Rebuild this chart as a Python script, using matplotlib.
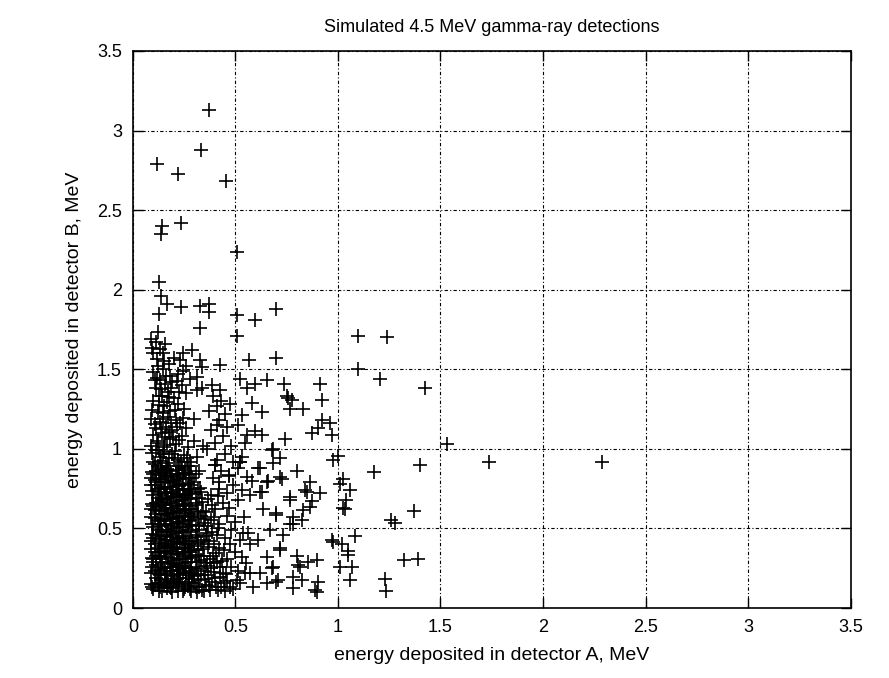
import matplotlib
matplotlib.use("Agg")
import matplotlib.pyplot as plt

plt.rcParams["font.family"] = ["Liberation Sans", "DejaVu Sans"]

TITLE = "Simulated 4.5 MeV gamma-ray detections"
XLABEL = "energy deposited in detector A, MeV"
YLABEL = "energy deposited in detector B, MeV"
TICKS = [0, 0.5, 1, 1.5, 2, 2.5, 3, 3.5]
TICK_LABELS = ["0", "0.5", "1", "1.5", "2", "2.5", "3", "3.5"]

# dense core of the cloud, read strip by strip (x, y in MeV)
core_pts = [
    (0.10, 0.12), (0.12, 0.16), (0.14, 0.11), (0.16, 0.18), (0.18, 0.13), (0.20, 0.17),
    (0.22, 0.11), (0.24, 0.15), (0.26, 0.19), (0.28, 0.12), (0.30, 0.16), (0.32, 0.13),
    (0.35, 0.18), (0.11, 0.19), (0.15, 0.14), (0.19, 0.10), (0.23, 0.19), (0.27, 0.14),
    (0.31, 0.10), (0.09, 0.15), (0.13, 0.13), (0.17, 0.15), (0.21, 0.14), (0.25, 0.12),
    (0.29, 0.18),
    (0.09, 0.22), (0.11, 0.27), (0.13, 0.21), (0.15, 0.25), (0.17, 0.29), (0.19, 0.23),
    (0.21, 0.27), (0.23, 0.21), (0.25, 0.25), (0.27, 0.29), (0.29, 0.22), (0.31, 0.26),
    (0.33, 0.21), (0.36, 0.28), (0.12, 0.24), (0.16, 0.22), (0.20, 0.20), (0.24, 0.28),
    (0.28, 0.25), (0.32, 0.29), (0.10, 0.29), (0.14, 0.28), (0.18, 0.26), (0.22, 0.24),
    (0.26, 0.22), (0.30, 0.20),
    (0.10, 0.31), (0.12, 0.35), (0.14, 0.39), (0.16, 0.32), (0.18, 0.36), (0.20, 0.30),
    (0.22, 0.34), (0.24, 0.38), (0.26, 0.31), (0.28, 0.35), (0.30, 0.39), (0.32, 0.33),
    (0.34, 0.37), (0.09, 0.37), (0.13, 0.33), (0.17, 0.39), (0.21, 0.37), (0.25, 0.35),
    (0.29, 0.32), (0.33, 0.30), (0.11, 0.33), (0.15, 0.36), (0.19, 0.34), (0.23, 0.31),
    (0.27, 0.38),
    (0.09, 0.42), (0.11, 0.46), (0.13, 0.41), (0.15, 0.45), (0.17, 0.49), (0.19, 0.43),
    (0.21, 0.47), (0.23, 0.41), (0.25, 0.45), (0.27, 0.49), (0.29, 0.42), (0.31, 0.46),
    (0.33, 0.40), (0.36, 0.47), (0.12, 0.49), (0.16, 0.43), (0.20, 0.40), (0.24, 0.48),
    (0.28, 0.44), (0.32, 0.49), (0.10, 0.44), (0.14, 0.48), (0.18, 0.46), (0.22, 0.44),
    (0.26, 0.42),
    (0.10, 0.51), (0.12, 0.55), (0.14, 0.59), (0.16, 0.52), (0.18, 0.56), (0.20, 0.50),
    (0.22, 0.54), (0.24, 0.58), (0.26, 0.51), (0.28, 0.55), (0.30, 0.59), (0.32, 0.52),
    (0.35, 0.56), (0.09, 0.57), (0.13, 0.53), (0.17, 0.59), (0.21, 0.57), (0.25, 0.55),
    (0.29, 0.52), (0.33, 0.58), (0.11, 0.59), (0.15, 0.56), (0.19, 0.53), (0.23, 0.51),
    (0.27, 0.58),
    (0.09, 0.62), (0.11, 0.66), (0.13, 0.61), (0.15, 0.65), (0.17, 0.69), (0.19, 0.63),
    (0.21, 0.67), (0.23, 0.61), (0.25, 0.65), (0.27, 0.69), (0.29, 0.62), (0.31, 0.66),
    (0.34, 0.61), (0.12, 0.69), (0.16, 0.63), (0.20, 0.60), (0.24, 0.68), (0.28, 0.64),
    (0.32, 0.69), (0.10, 0.64), (0.14, 0.68), (0.18, 0.66), (0.22, 0.64), (0.26, 0.62),
    (0.10, 0.71), (0.12, 0.75), (0.14, 0.79), (0.16, 0.72), (0.18, 0.76), (0.20, 0.70),
    (0.22, 0.74), (0.24, 0.78), (0.26, 0.71), (0.28, 0.75), (0.30, 0.79), (0.33, 0.73),
    (0.09, 0.77), (0.13, 0.73), (0.17, 0.79), (0.21, 0.77), (0.25, 0.75), (0.29, 0.72),
    (0.11, 0.79), (0.15, 0.76), (0.19, 0.73), (0.23, 0.71), (0.27, 0.78),
    (0.09, 0.82), (0.11, 0.86), (0.13, 0.81), (0.15, 0.85), (0.17, 0.89), (0.19, 0.83),
    (0.21, 0.87), (0.23, 0.81), (0.25, 0.85), (0.27, 0.89), (0.29, 0.82), (0.32, 0.86),
    (0.12, 0.89), (0.16, 0.83), (0.20, 0.80), (0.24, 0.88), (0.28, 0.84), (0.10, 0.84),
    (0.14, 0.88), (0.18, 0.86), (0.22, 0.84), (0.26, 0.82),
]

# further points packed in between the core ones
core_fill_pts = [
    (0.095, 0.135), (0.125, 0.105), (0.155, 0.165), (0.185, 0.125), (0.215, 0.185),
    (0.245, 0.105), (0.275, 0.165), (0.305, 0.135), (0.335, 0.115),
    (0.095, 0.255), (0.125, 0.215), (0.155, 0.235), (0.185, 0.205), (0.215, 0.255),
    (0.245, 0.225), (0.275, 0.205), (0.305, 0.245), (0.345, 0.235),
    (0.095, 0.315), (0.125, 0.375), (0.155, 0.345), (0.185, 0.315), (0.215, 0.355),
    (0.245, 0.325), (0.275, 0.365), (0.305, 0.335), (0.345, 0.325),
    (0.095, 0.465), (0.125, 0.435), (0.155, 0.405), (0.185, 0.445), (0.215, 0.415),
    (0.245, 0.435), (0.275, 0.405), (0.305, 0.445), (0.345, 0.425),
    (0.095, 0.525), (0.125, 0.515), (0.155, 0.545), (0.185, 0.515), (0.215, 0.535),
    (0.245, 0.525), (0.275, 0.545), (0.305, 0.515), (0.345, 0.535),
    (0.095, 0.655), (0.125, 0.635), (0.155, 0.615), (0.185, 0.645), (0.215, 0.625),
    (0.245, 0.655), (0.275, 0.625), (0.305, 0.645), (0.335, 0.665),
    (0.095, 0.735), (0.125, 0.715), (0.155, 0.745), (0.185, 0.725), (0.215, 0.715),
    (0.245, 0.745), (0.275, 0.735), (0.305, 0.715), (0.325, 0.755),
    (0.095, 0.855), (0.125, 0.835), (0.155, 0.815), (0.185, 0.845), (0.215, 0.825),
    (0.245, 0.835), (0.275, 0.815), (0.305, 0.845),
    (0.105, 0.905), (0.135, 0.925), (0.175, 0.945), (0.235, 0.915), (0.265, 0.945),
    (0.145, 0.965), (0.205, 0.985),
    (0.355, 0.145), (0.385, 0.165), (0.415, 0.115), (0.365, 0.205), (0.395, 0.225),
    (0.425, 0.255), (0.355, 0.265), (0.375, 0.305), (0.405, 0.345), (0.435, 0.295),
    (0.365, 0.385), (0.395, 0.405), (0.355, 0.455), (0.385, 0.475), (0.415, 0.505),
    (0.365, 0.515), (0.395, 0.575), (0.355, 0.605), (0.385, 0.645), (0.365, 0.685),
    (0.415, 0.705),
    (0.125, 0.995), (0.165, 1.025), (0.195, 1.075), (0.225, 1.055), (0.105, 1.155),
    (0.145, 1.185), (0.185, 1.165), (0.245, 1.195), (0.125, 1.275), (0.165, 1.295),
    (0.205, 1.245), (0.135, 1.375), (0.185, 1.385), (0.225, 1.355), (0.115, 1.445),
    (0.145, 1.505), (0.175, 1.535), (0.115, 1.565), (0.095, 1.635),
]

# a third pass over the blackest part of the cloud
core_fill2_pts = [
    (0.105, 0.145), (0.135, 0.175), (0.165, 0.125), (0.195, 0.155), (0.225, 0.165),
    (0.255, 0.135), (0.285, 0.105), (0.315, 0.175),
    (0.105, 0.235), (0.135, 0.255), (0.165, 0.205), (0.195, 0.275), (0.225, 0.215),
    (0.255, 0.265), (0.285, 0.235), (0.315, 0.215),
    (0.105, 0.355), (0.135, 0.305), (0.165, 0.375), (0.195, 0.385), (0.225, 0.305),
    (0.255, 0.375), (0.285, 0.315), (0.315, 0.365),
    (0.105, 0.405), (0.135, 0.455), (0.165, 0.475), (0.195, 0.415), (0.225, 0.485),
    (0.255, 0.405), (0.285, 0.475), (0.315, 0.415),
    (0.105, 0.565), (0.135, 0.545), (0.165, 0.585), (0.195, 0.575), (0.225, 0.565),
    (0.255, 0.595), (0.285, 0.575), (0.315, 0.565),
    (0.105, 0.615), (0.135, 0.665), (0.165, 0.685), (0.195, 0.605), (0.225, 0.695),
    (0.255, 0.615), (0.285, 0.685), (0.315, 0.605),
    (0.105, 0.775), (0.135, 0.755), (0.165, 0.705), (0.195, 0.785), (0.225, 0.765),
    (0.255, 0.705), (0.285, 0.775), (0.315, 0.745),
    (0.105, 0.805), (0.135, 0.865), (0.165, 0.875), (0.195, 0.805), (0.225, 0.895),
    (0.255, 0.865), (0.285, 0.895),
    (0.095, 0.975), (0.115, 1.035), (0.155, 1.075), (0.135, 1.125), (0.175, 1.105),
    (0.215, 1.135), (0.095, 1.245), (0.145, 1.225), (0.175, 1.325), (0.125, 1.335),
    (0.215, 1.425), (0.155, 1.405),
    (0.345, 0.105), (0.375, 0.115), (0.405, 0.135), (0.445, 0.155), (0.475, 0.135),
    (0.425, 0.195), (0.455, 0.215), (0.395, 0.285), (0.445, 0.365), (0.475, 0.405),
]

# thinner band right of the core, x ~0.35-0.56
fringe_pts = [
    (0.37, 0.14), (0.40, 0.19), (0.43, 0.13), (0.46, 0.17), (0.49, 0.12), (0.52, 0.16),
    (0.38, 0.25), (0.41, 0.29), (0.44, 0.22), (0.48, 0.26), (0.51, 0.23), (0.55, 0.28),
    (0.39, 0.33), (0.42, 0.38), (0.46, 0.31), (0.50, 0.35), (0.53, 0.32), (0.37, 0.42),
    (0.41, 0.46), (0.45, 0.44), (0.48, 0.49), (0.52, 0.43), (0.56, 0.47), (0.38, 0.55),
    (0.42, 0.53), (0.46, 0.58), (0.50, 0.54), (0.54, 0.57), (0.40, 0.62), (0.44, 0.66),
    (0.47, 0.63), (0.51, 0.68), (0.38, 0.71), (0.42, 0.75), (0.46, 0.72), (0.49, 0.77),
    (0.53, 0.74), (0.39, 0.82), (0.43, 0.86), (0.47, 0.83), (0.51, 0.88), (0.41, 0.93),
    (0.45, 0.97), (0.49, 0.92), (0.53, 0.95), (0.36, 1.00), (0.40, 1.04), (0.44, 1.08),
    (0.48, 1.02), (0.38, 1.12), (0.42, 1.18), (0.46, 1.14), (0.37, 1.24), (0.41, 1.27),
    (0.45, 1.22), (0.39, 1.33), (0.43, 1.30), (0.40, 0.90), (0.52, 0.92), (0.42, 0.79),
    (0.47, 0.835),
]

# upper part of the cloud, y ~0.9-1.75
upper_pts = [
    (0.10, 0.92), (0.13, 0.95), (0.16, 0.91), (0.19, 0.97), (0.22, 0.93), (0.25, 0.96),
    (0.28, 0.92), (0.11, 0.99), (0.15, 0.98), (0.20, 0.94), (0.31, 0.95), (0.09, 1.02),
    (0.12, 1.05), (0.15, 1.01), (0.18, 1.06), (0.21, 1.03), (0.24, 1.08), (0.27, 1.01),
    (0.10, 1.09), (0.14, 1.10), (0.30, 1.05), (0.34, 1.02), (0.11, 1.13), (0.13, 1.17),
    (0.16, 1.14), (0.19, 1.12), (0.23, 1.16), (0.26, 1.13), (0.09, 1.19), (0.17, 1.20),
    (0.21, 1.18), (0.30, 1.19), (0.12, 1.23), (0.15, 1.27), (0.18, 1.24), (0.22, 1.28),
    (0.10, 1.30), (0.25, 1.25), (0.14, 1.33), (0.17, 1.36), (0.20, 1.32), (0.26, 1.35),
    (0.11, 1.38), (0.24, 1.40), (0.31, 1.37), (0.13, 1.43), (0.16, 1.46), (0.19, 1.42),
    (0.10, 1.48), (0.22, 1.47), (0.28, 1.44), (0.12, 1.52), (0.15, 1.55), (0.20, 1.57),
    (0.26, 1.52), (0.10, 1.60), (0.13, 1.63), (0.11, 1.67), (0.09, 1.69), (0.124, 1.735),
    (0.156, 1.66), (0.146, 1.60), (0.244, 1.60), (0.29, 1.62), (0.23, 1.56), (0.327, 1.56),
    (0.335, 1.515), (0.424, 1.525), (0.245, 1.49), (0.107, 1.43), (0.18, 1.46),
    (0.31, 1.45), (0.384, 1.40), (0.335, 1.38), (0.424, 1.37), (0.408, 1.15), (0.40, 0.90),
]

# scattered points x ~0.5-1.1
mid_pts = [
    (0.522, 1.44), (0.595, 1.41), (0.652, 1.43), (0.737, 1.41), (0.555, 1.38), (0.912, 1.41),
    (0.75, 1.33), (0.774, 1.31), (0.828, 1.25), (0.92, 1.31), (0.473, 1.285), (0.579, 1.29),
    (0.628, 1.23), (0.53, 1.21), (0.92, 1.18), (0.961, 1.16), (0.51, 1.15), (0.595, 1.11),
    (0.628, 1.09), (0.872, 1.10), (0.969, 1.09), (0.741, 1.06), (0.546, 1.04), (0.758, 1.32),
    (0.766, 1.25), (0.904, 1.13), (0.555, 1.09), (0.684, 1.00), (0.522, 0.92), (0.555, 0.825),
    (0.977, 0.93), (1.00, 0.955), (0.717, 0.94), (0.677, 0.99), (0.684, 0.91), (0.62, 0.88),
    (0.80, 0.86), (0.725, 0.81), (0.652, 0.79), (0.579, 0.80), (0.863, 0.79), (1.026, 0.81),
    (1.01, 0.78), (1.06, 0.74), (0.839, 0.74), (0.912, 0.72), (0.766, 0.68), (0.872, 0.67),
    (1.04, 0.68), (1.026, 0.63), (0.83, 0.615), (0.70, 0.60), (0.78, 0.57), (0.571, 0.71),
    (0.628, 0.73), (0.766, 0.70), (0.847, 0.73), (0.636, 0.625), (0.70, 0.585), (0.766, 0.53),
    (0.823, 0.55), (0.863, 0.635), (1.034, 0.625), (0.969, 0.43), (1.018, 0.405),
    (0.668, 0.49), (0.733, 0.46), (0.717, 0.375), (0.652, 0.32), (0.80, 0.33), (0.856, 0.29),
    (0.896, 0.30), (0.815, 0.26), (0.677, 0.25), (0.78, 0.197), (0.823, 0.176), (0.709, 0.176),
    (0.652, 0.155), (0.587, 0.134), (0.78, 0.124), (0.904, 0.165), (0.888, 0.113),
    (0.896, 0.10), (0.546, 0.218), (0.62, 0.218), (0.571, 0.405), (0.538, 0.47), (0.611, 0.427),
    (0.506, 0.176), (0.449, 0.11), (0.571, 0.22), (0.70, 0.165), (0.807, 0.27), (0.684, 0.26),
    (0.717, 0.365), (0.78, 0.53), (0.66, 0.80), (0.717, 0.825), (0.62, 0.73), (0.61, 0.88),
]

# far outliers
tail_pts = [
    (0.371, 3.13), (0.33, 2.88), (0.115, 2.79), (0.221, 2.73), (0.452, 2.68), (0.143, 2.40),
    (0.137, 2.35), (0.234, 2.42), (0.506, 2.24), (0.127, 2.05), (0.135, 1.96), (0.164, 1.91),
    (0.233, 1.89), (0.327, 1.90), (0.372, 1.91), (0.371, 1.86), (0.128, 1.85), (0.509, 1.84),
    (0.595, 1.81), (0.70, 1.88), (0.327, 1.76), (0.509, 1.71), (0.567, 1.56), (0.70, 1.57),
    (1.10, 1.71), (1.24, 1.70), (1.096, 1.50), (1.205, 1.44), (1.424, 1.385), (1.533, 1.03),
    (1.40, 0.90), (1.738, 0.915), (2.286, 0.915), (1.37, 0.61), (1.26, 0.55), (1.28, 0.535),
    (1.32, 0.30), (1.39, 0.305), (1.23, 0.18), (1.234, 0.107), (1.176, 0.855), (1.083, 0.45),
    (1.05, 0.36), (1.05, 0.335), (1.067, 0.26), (1.06, 0.175), (1.01, 0.26), (0.977, 0.415),
]

all_pts = core_pts + core_fill_pts + core_fill2_pts + fringe_pts + upper_pts + mid_pts + tail_pts
xs = [p[0] for p in all_pts]
ys = [p[1] for p in all_pts]

fig = plt.figure(figsize=(8.89, 6.78), dpi=100)
ax = fig.add_axes([0.1496, 0.1032, 0.8071, 0.8216])

ax.plot(xs, ys, linestyle="none", marker="+", markersize=10, markeredgewidth=1.2,
        color="black", zorder=3)

ax.set_xlim(0, 3.5)
ax.set_ylim(0, 3.5)
ax.set_xticks(TICKS)
ax.set_xticklabels(TICK_LABELS)
ax.set_yticks(TICKS)
ax.set_yticklabels(TICK_LABELS)
ax.tick_params(direction="in", length=7, width=1, top=True, right=True,
               labelsize=13, pad=8, color="black")
ax.grid(True, color="black", linestyle=(0, (3, 2, 1, 2)), linewidth=0.8)
for sp in ax.spines.values():
    sp.set_linewidth(1.2)

ax.set_title(TITLE, fontsize=13, pad=14)
ax.set_xlabel(XLABEL, fontsize=14, labelpad=8)
ax.set_ylabel(YLABEL, fontsize=14, labelpad=10)

fig.savefig("out.png", dpi=100)
